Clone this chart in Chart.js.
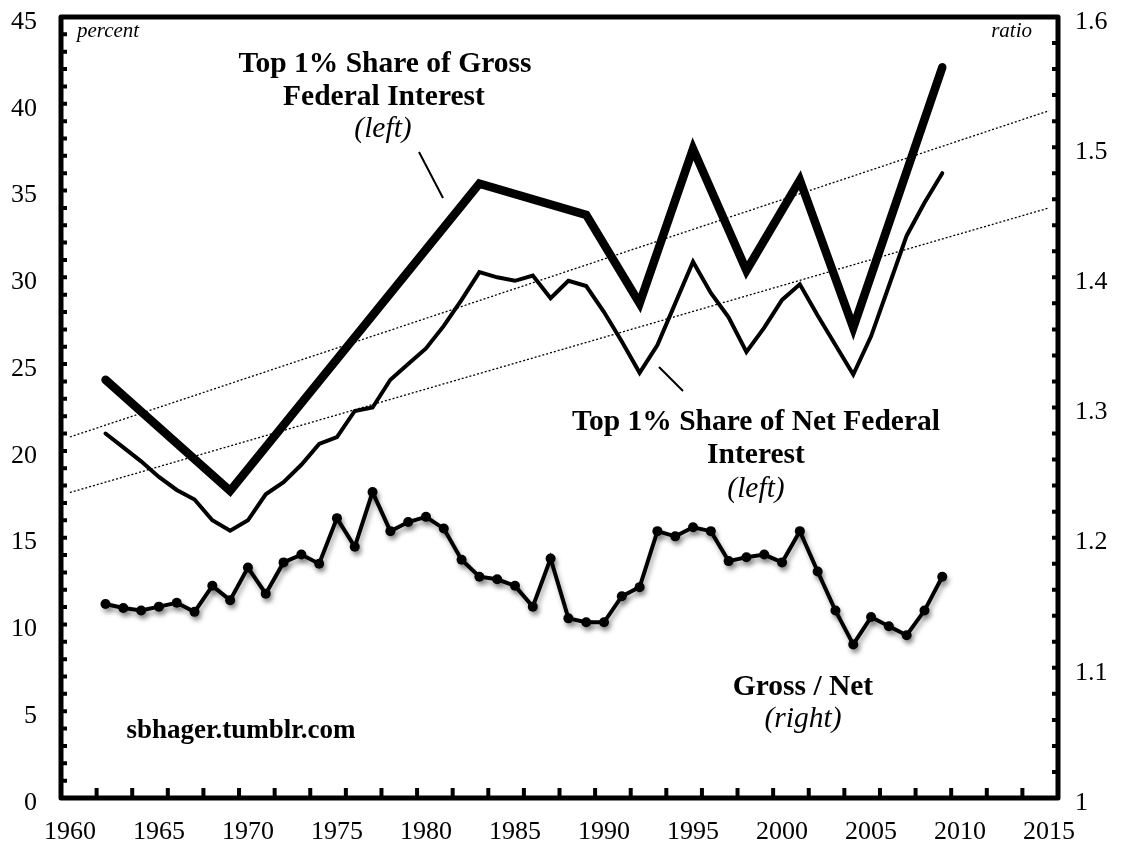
<!DOCTYPE html>
<html>
<head>
<meta charset="utf-8">
<script src="https://cdn.jsdelivr.net/npm/chart.js@4/dist/chart.umd.min.js"></script>
<style>
  html, body { margin: 0; padding: 0; background: #ffffff; }
  canvas { display: block; }
</style>
</head>
<body>
<canvas id="c" width="1128" height="846"></canvas>
<script>
// ---------- DATA ----------
const annualYears = [1962,1963,1964,1965,1966,1967,1968,1969,1970,1971,1972,1973,1974,1975,1976,1977,1978,1979,1980,1981,1982,1983,1984,1985,1986,1987,1988,1989,1990,1991,1992,1993,1994,1995,1996,1997,1998,1999,2000,2001,2002,2003,2004,2005,2006,2007,2008,2009];

const netShare = [21.0,20.2,19.4,18.5,17.75,17.2,16.0,15.4,16.0,17.5,18.2,19.2,20.4,20.8,22.3,22.5,24.1,25.0,25.9,27.2,28.7,30.3,30.0,29.8,30.1,28.8,29.8,29.5,28.0,26.3,24.5,26.1,28.5,30.9,29.1,27.7,25.7,27.1,28.7,29.6,27.8,26.1,24.4,26.6,29.5,32.4,34.3,36.0];

const grossNetRatio = [1.149,1.146,1.144,1.147,1.150,1.143,1.163,1.152,1.177,1.157,1.181,1.187,1.180,1.215,1.193,1.235,1.205,1.212,1.216,1.207,1.183,1.170,1.168,1.163,1.147,1.184,1.138,1.135,1.135,1.155,1.162,1.205,1.201,1.208,1.205,1.182,1.185,1.187,1.181,1.205,1.174,1.144,1.118,1.139,1.132,1.125,1.144,1.170];

const grossYears = [1962,1969,1983,1989,1992,1995,1998,2001,2004,2009];
const grossShare = [24.1,17.7,35.4,33.6,28.5,37.4,30.4,35.6,27.1,42.1];

const trendYears = [1960, 2015];
const trendUpper = [20.8, 39.6];
const trendLower = [17.6, 34.0];

const xTickLabels = [1960,1965,1970,1975,1980,1985,1990,1995,2000,2005,2010,2015];
const leftTickLabels = [0,5,10,15,20,25,30,35,40,45];
const rightTickLabels = [1,1.1,1.2,1.3,1.4,1.5,1.6];

// ---------- HELPERS ----------
const pts = (xs, ys) => xs.map((x, i) => ({x: x, y: ys[i]}));
const FONT = "'Liberation Serif', 'Times New Roman', serif";

const framePlugin = {
  id: 'frame',
  beforeDatasetDraw(chart, args) {
    if (args.meta.yAxisID === 'y1') {
      const ctx = chart.ctx;
      ctx.save();
      ctx.shadowColor = 'rgba(0,0,0,0.35)';
      ctx.shadowBlur = 5;
      ctx.shadowOffsetX = 2;
      ctx.shadowOffsetY = 4;
    }
  },
  afterDatasetDraw(chart, args) {
    if (args.meta.yAxisID === 'y1') chart.ctx.restore();
  },
  afterDatasetsDraw(chart) {
    const ctx = chart.ctx;
    const a = chart.chartArea;
    const sx = chart.scales.x, sy = chart.scales.y, sy1 = chart.scales.y1;
    ctx.save();
    ctx.strokeStyle = '#000';
    ctx.lineWidth = 4;
    ctx.lineCap = 'butt';
    ctx.beginPath();
    for (let v = 1961.5; v < 2015.4; v += 2) {
      const px = sx.getPixelForValue(v);
      ctx.moveTo(px, a.bottom); ctx.lineTo(px, a.bottom - 10);
    }
    for (let v = 1; v < 45; v += 1) {
      const py = sy.getPixelForValue(v);
      ctx.moveTo(a.left, py); ctx.lineTo(a.left + 6, py);
    }
    for (let k = 1; k < 30; k++) {
      const py = sy1.getPixelForValue(1 + k * 0.02);
      ctx.moveTo(a.right, py); ctx.lineTo(a.right - 6, py);
    }
    ctx.stroke();
    ctx.lineWidth = 5;
    ctx.lineJoin = 'round';
    ctx.strokeRect(a.left, a.top, a.right - a.left, a.bottom - a.top);
    ctx.restore();
  },
  afterDraw(chart) {
    const ctx = chart.ctx;
    ctx.save();
    ctx.fillStyle = '#000';
    ctx.textBaseline = 'alphabetic';
    const t = (txt, x, y, font, align) => {
      ctx.font = font; ctx.textAlign = align || 'center'; ctx.fillText(txt, x, y);
    };
    const B = 'bold 29.5px ' + FONT, I = 'italic 29.5px ' + FONT;
    t('Top 1% Share of Gross', 385, 72, B);
    t('Federal Interest', 384, 105, B);
    t('(left)', 383, 137, I);
    t('Top 1% Share of Net Federal', 756, 430, B);
    t('Interest', 756, 463, B);
    t('(left)', 756, 497, I);
    t('Gross / Net', 803, 695, B);
    t('(right)', 803, 727, I);
    t('sbhager.tumblr.com', 241, 738, 'bold 27px ' + FONT);
    t('percent', 77, 37, 'italic 21px ' + FONT, 'left');
    t('ratio', 1032, 37, 'italic 21px ' + FONT, 'right');
    ctx.strokeStyle = '#000';
    ctx.lineWidth = 2;
    ctx.beginPath();
    ctx.moveTo(419, 152); ctx.lineTo(443, 198);
    ctx.moveTo(659, 367); ctx.lineTo(683, 391);
    ctx.stroke();
    ctx.restore();
  }
};

const noPadV = s => { s.paddingTop = 0; s.paddingBottom = 0; };

new Chart(document.getElementById('c'), {
  type: 'line',
  data: {
    datasets: [
      {
        label: 'Gross / Net (right)',
        data: pts(annualYears, grossNetRatio),
        yAxisID: 'y1',
        borderColor: '#000', backgroundColor: '#000',
        borderWidth: 4, pointRadius: 5, pointBorderWidth: 0,
        pointBackgroundColor: '#000', tension: 0, order: 1
      },
      {
        label: 'Top 1% Share of Gross Federal Interest (left)',
        data: pts(grossYears, grossShare),
        yAxisID: 'y',
        borderColor: '#000', borderWidth: 8.5, pointRadius: 0,
        borderJoinStyle: 'miter', borderCapStyle: 'round', tension: 0, order: 2
      },
      {
        label: 'Top 1% Share of Net Federal Interest (left)',
        data: pts(annualYears, netShare),
        yAxisID: 'y',
        borderColor: '#000', borderWidth: 4, pointRadius: 0,
        borderJoinStyle: 'miter', borderCapStyle: 'round', tension: 0, order: 3
      },
      {
        label: 'Trend upper',
        data: pts(trendYears, trendUpper),
        yAxisID: 'y',
        borderColor: '#000', borderWidth: 1.3, borderDash: [2, 2],
        pointRadius: 0, order: 4
      },
      {
        label: 'Trend lower',
        data: pts(trendYears, trendLower),
        yAxisID: 'y',
        borderColor: '#000', borderWidth: 1.3, borderDash: [2, 2],
        pointRadius: 0, order: 5
      }
    ]
  },
  options: {
    responsive: false,
    animation: false,
    devicePixelRatio: 1,
    layout: { padding: { top: 17, left: 0, right: 0, bottom: 0 } },
    plugins: { legend: { display: false }, tooltip: { enabled: false } },
    scales: {
      x: {
        type: 'linear', position: 'bottom', min: 1959.5, max: 2015.5,
        afterBuildTicks: s => { s.ticks = xTickLabels.map(v => ({ value: v })); },
        afterFit: s => { s.height = 48; s.paddingLeft = 0; s.paddingRight = 0; },
        grid: { display: false, drawTicks: false },
        border: { display: false },
        ticks: {
          color: '#000', font: { family: FONT, size: 26 }, padding: 19,
          maxRotation: 0, autoSkip: false, callback: v => String(v)
        }
      },
      y: {
        type: 'linear', position: 'left', min: 0, max: 45,
        afterBuildTicks: s => { s.ticks = leftTickLabels.map(v => ({ value: v })); },
        afterFit: s => { s.width = 61; noPadV(s); },
        grid: { display: false, drawTicks: false },
        border: { display: false },
        ticks: {
          color: '#000', font: { family: FONT, size: 26 }, padding: 24,
          labelOffset: 5, callback: v => String(v)
        }
      },
      y1: {
        type: 'linear', position: 'right', min: 1, max: 1.6,
        afterBuildTicks: s => { s.ticks = rightTickLabels.map(v => ({ value: v })); },
        afterFit: s => { s.width = 70; noPadV(s); },
        grid: { display: false, drawTicks: false },
        border: { display: false },
        ticks: {
          color: '#000', font: { family: FONT, size: 26 }, padding: 17,
          labelOffset: 5, callback: v => (Math.abs(v - 1) < 1e-9 ? '1' : v.toFixed(1))
        }
      }
    }
  },
  plugins: [framePlugin]
});
</script>
</body>
</html>
